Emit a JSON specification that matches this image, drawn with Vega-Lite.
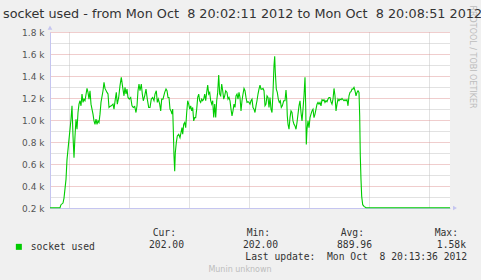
{
  "$schema": "https://vega.github.io/schema/vega-lite/v6.json",
  "autosize": "none",
  "width": 400,
  "height": 176,
  "padding": {"left": 50, "top": 32, "right": 31, "bottom": 72},
  "background": "#f0f0f0",
  "config": {"font": "DejaVu Sans", "view": {"fill": "#ffffff", "stroke": null}},
  "title": {
    "text": "socket used - from Mon Oct\u00a0 8 20:02:11 2012 to Mon Oct\u00a0 8 20:08:51 2012",
    "anchor": "start", "frame": "group", "dx": -47, "offset": -26, "baseline": "alphabetic",
    "font": "DejaVu Sans", "fontSize": 12.8, "fontWeight": "normal", "color": "#333333"
  },
  "layer": [
    {
      "layer": [
        {
          "data": {"values": [
            {"t":0,"v":202},{"t":10,"v":202},{"t":11,"v":230},{"t":13,"v":245},{"t":14,"v":290},{"t":16,"v":460},{"t":17,"v":640},{"t":19,"v":824},{"t":21,"v":1007},{"t":22,"v":1129},{"t":23,"v":855},{"t":24,"v":657},{"t":25,"v":855},{"t":26,"v":1007},{"t":27,"v":916},{"t":28,"v":1068},{"t":29,"v":1144},{"t":30,"v":1175},{"t":31,"v":1129},{"t":32,"v":1236},{"t":33,"v":1160},{"t":34,"v":1190},{"t":35,"v":1175},{"t":37,"v":1287},{"t":38,"v":1251},{"t":39,"v":1190},{"t":40,"v":1266},{"t":41,"v":1144},{"t":43,"v":1053},{"t":44,"v":992},{"t":45,"v":961},{"t":46,"v":1007},{"t":47,"v":961},{"t":48,"v":992},{"t":49,"v":977},{"t":50,"v":1053},{"t":51,"v":1160},{"t":53,"v":1266},{"t":54,"v":1342},{"t":55,"v":1287},{"t":57,"v":1251},{"t":58,"v":1236},{"t":59,"v":1114},
            {"t":60,"v":1123},{"t":61.3,"v":1129},{"t":63,"v":1144},{"t":64,"v":1099},{"t":65.3,"v":1190},{"t":66.3,"v":1251},{"t":67.3,"v":1144},{"t":68.7,"v":1205},{"t":70,"v":1312},{"t":71.3,"v":1388},{"t":72.7,"v":1297},{"t":74,"v":1220},{"t":75,"v":1297},{"t":76,"v":1236},{"t":77,"v":1281},{"t":78,"v":1205},{"t":79.3,"v":1190},{"t":80.7,"v":1205},{"t":82,"v":1129},{"t":83.3,"v":1114},{"t":84.7,"v":1123},{"t":86,"v":1068},{"t":87,"v":1129},{"t":88,"v":1266},{"t":89,"v":1327},{"t":90,"v":1266},{"t":91.3,"v":1327},{"t":92.3,"v":1236},{"t":93.3,"v":1175},{"t":94.7,"v":1220},{"t":96,"v":1281},{"t":97.3,"v":1190},{"t":98.7,"v":1114},{"t":100,"v":1114},{"t":101.3,"v":1190},{"t":102.7,"v":1205},{"t":104,"v":1175},{"t":105,"v":1236},{"t":106.3,"v":1266},{"t":107.3,"v":1160},{"t":108.3,"v":1190},{"t":109.7,"v":1144},{"t":110.7,"v":1083},{"t":111.7,"v":1190},{"t":113,"v":1190},{"t":114.7,"v":1251},{"t":116,"v":1281},
            {"t":117,"v":1266},{"t":118,"v":1205},{"t":119,"v":1205},{"t":120,"v":1099},{"t":121,"v":1083},{"t":122,"v":1053},{"t":122.7,"v":1099},{"t":123.3,"v":916},{"t":124,"v":672},{"t":124.7,"v":535},{"t":125.3,"v":702},{"t":126.3,"v":794},{"t":127.3,"v":855},{"t":128.7,"v":870},{"t":130,"v":839},{"t":131,"v":885},{"t":132,"v":931},{"t":132.7,"v":870},{"t":133.7,"v":961},{"t":134.7,"v":977},{"t":135.7,"v":931},{"t":136.7,"v":1068},{"t":137.7,"v":1175},{"t":138.7,"v":1144},{"t":139.7,"v":1099},{"t":140.7,"v":1129},{"t":141.7,"v":1083},{"t":142.7,"v":1114},{"t":143.7,"v":992},{"t":144.7,"v":1022},{"t":145.7,"v":1022},{"t":146.7,"v":1099},{"t":147.7,"v":1205},{"t":148.7,"v":1236},{"t":149.7,"v":1175},{"t":150.7,"v":1160},{"t":151.7,"v":1190},{"t":152.7,"v":1175},{"t":153.7,"v":1190},{"t":154.7,"v":1236},{"t":155.7,"v":1175},{"t":156.7,"v":1251},{"t":157.7,"v":1318},{"t":158.7,"v":1236},{"t":159.7,"v":1251},{"t":160.7,"v":1175},{"t":161.7,"v":1144},{"t":162.7,"v":1175},{"t":163.7,"v":1022},{"t":164.7,"v":1144},{"t":165.7,"v":1022},{"t":166.7,"v":1175},{"t":167.7,"v":1251},{"t":168.7,"v":1409},{"t":169.7,"v":1236},{"t":170.7,"v":1220},{"t":171.7,"v":1327},{"t":172.7,"v":1266},{"t":173.7,"v":1190},{"t":174.7,"v":1220},{"t":175.7,"v":1266},
            {"t":177,"v":1251},{"t":178,"v":1190},{"t":179,"v":1205},{"t":180,"v":1175},{"t":181,"v":1099},{"t":182,"v":1037},{"t":183,"v":1083},{"t":184,"v":1144},{"t":185,"v":1114},{"t":186,"v":1220},{"t":187,"v":1236},{"t":188,"v":1190},{"t":189,"v":1251},{"t":190,"v":1205},{"t":191,"v":1083},{"t":192,"v":1175},{"t":193,"v":1236},{"t":194,"v":1287},{"t":195,"v":1266},{"t":196,"v":1205},{"t":197,"v":1160},{"t":198,"v":1166},{"t":199,"v":1160},{"t":200,"v":1144},{"t":201,"v":1175},{"t":202,"v":1190},{"t":203,"v":1114},{"t":204,"v":1099},{"t":205,"v":1068},{"t":206,"v":1129},{"t":207,"v":1175},{"t":208,"v":1236},{"t":209,"v":1281},{"t":210,"v":1318},{"t":211,"v":1281},{"t":212,"v":1281},{"t":213,"v":1287},{"t":214,"v":1266},{"t":215,"v":1129},{"t":216,"v":1144},{"t":217,"v":1220},{"t":218,"v":1205},{"t":219,"v":1114},{"t":220,"v":1205},{"t":221,"v":1099},{"t":222,"v":1068},{"t":223,"v":1251},{"t":224,"v":1495},{"t":224.7,"v":1580},{"t":225.3,"v":1434},{"t":226.3,"v":1281},{"t":227.3,"v":1251},{"t":228.3,"v":1190},{"t":229.3,"v":1160},{"t":230.3,"v":1175},{"t":231.3,"v":1114},{"t":232.3,"v":1129},{"t":233.7,"v":1175},
            {"t":235,"v":1175},{"t":236,"v":1272},{"t":236.7,"v":1190},{"t":237.3,"v":1037},{"t":238,"v":961},{"t":239,"v":916},{"t":240,"v":1022},{"t":241,"v":1083},{"t":242,"v":1068},{"t":243,"v":992},{"t":244,"v":961},{"t":245,"v":946},{"t":246,"v":916},{"t":247,"v":977},{"t":248,"v":1053},{"t":249,"v":1129},{"t":250,"v":1175},{"t":251,"v":1068},{"t":252,"v":992},{"t":253,"v":1099},{"t":254,"v":1220},{"t":255,"v":1388},{"t":255.7,"v":1129},{"t":256.3,"v":778},{"t":257,"v":916},{"t":258,"v":992},{"t":259,"v":931},{"t":260,"v":1022},{"t":261,"v":1053},{"t":262,"v":1083},{"t":263,"v":1099},{"t":264,"v":1022},{"t":265,"v":1053},{"t":266,"v":1099},{"t":267,"v":1144},{"t":268,"v":1160},{"t":269,"v":1144},{"t":270,"v":1160},{"t":271,"v":1129},{"t":272,"v":1184},{"t":273,"v":1175},{"t":274,"v":1184},{"t":275,"v":1160},{"t":276,"v":1175},{"t":277,"v":1166},{"t":278,"v":1190},{"t":279,"v":1205},{"t":280,"v":1205},{"t":281,"v":1166},{"t":282,"v":1144},{"t":283,"v":1190},{"t":284,"v":1287},{"t":285,"v":1220},{"t":286,"v":1083},{"t":287,"v":1144},{"t":288,"v":1190},{"t":289,"v":1175},{"t":290,"v":1190},{"t":291,"v":1184},
            {"t":292,"v":1196},{"t":293,"v":1184},{"t":294,"v":1175},{"t":295,"v":1184},{"t":296,"v":1175},{"t":297,"v":1184},{"t":298,"v":1129},{"t":299,"v":1220},{"t":300,"v":1251},{"t":301,"v":1257},{"t":302,"v":1281},{"t":303,"v":1281},{"t":304,"v":1297},{"t":305,"v":1266},{"t":306,"v":1220},{"t":307,"v":1251},{"t":308,"v":1266},{"t":309,"v":1251},{"t":309.7,"v":1037},{"t":310.3,"v":672},{"t":311,"v":458},{"t":311.7,"v":306},{"t":312.7,"v":230},{"t":314,"v":215},{"t":316,"v":202},{"t":400,"v":202}
          ]},
          "mark": {"type": "line", "strokeWidth": 1.1, "interpolate": "linear"},
          "encoding": {
            "x": {
              "field": "t", "type": "quantitative",
              "scale": {"domain": [0, 400], "nice": false, "zero": false},
              "axis": {
                "title": null,
                "values": [19, 49, 79, 109, 139, 169, 199, 229, 259, 289, 319, 349, 379],
                "grid": true, "gridDash": [1, 1], "gridWidth": 1,
                "gridColor": {"condition": {"test": "datum.value === 169", "value": "#e09a9a"}, "value": "#c4c4c4"},
                "ticks": false, "domainColor": "#c5c5f0", "domainWidth": 1,
                "labelExpr": "datum.value === 169 ? '20:05' : ''",
                "labelFont": "DejaVu Sans", "labelFontSize": 9, "labelColor": "#555555",
                "labelPadding": 3, "labelFlush": false, "labelOverlap": false
              }
            },
            "y": {
              "field": "v", "type": "quantitative",
              "scale": {"domain": [200, 1800], "nice": false, "zero": false},
              "axis": {
                "title": null, "orient": "left",
                "values": [200, 300, 400, 500, 600, 700, 800, 900, 1000, 1100, 1200, 1300, 1400, 1500, 1600, 1700, 1800],
                "grid": true, "gridDash": [1, 1], "gridWidth": 1,
                "gridColor": {"condition": {"test": "datum.value % 200 === 0", "value": "#e09a9a"}, "value": "#c4c4c4"},
                "ticks": false, "domainColor": "#c5c5f0", "domainWidth": 1,
                "labelExpr": "datum.value % 200 === 0 ? format(datum.value / 1000, '.1f') + ' k' : ''",
                "labelFont": "DejaVu Sans", "labelFontSize": 9, "labelColor": "#555555",
                "labelPadding": 6, "labelFlush": false, "labelOverlap": false
              }
            },
            "color": {
              "datum": "socket used", "type": "nominal",
              "scale": {"domain": ["socket used"], "range": ["#00cc00"]},
              "legend": {
                "orient": "none", "legendX": -36, "legendY": 210, "title": null, "padding": 0,
                "symbolType": "square", "symbolSize": 36, "symbolStrokeWidth": 0,
                "symbolFillColor": "#00cc00", "labelOffset": 7,
                "labelFont": "DejaVu Sans Mono", "labelFontSize": 9.7, "labelColor": "#333333",
                "encode": {"symbols": {"update": {"fill": {"value": "#00cc00"}, "stroke": {"value": "transparent"}, "opacity": {"value": 1}}}}
              }
            }
          }
        },
        {
          "data": {"values": [{}]},
          "mark": {"type": "point", "shape": "triangle-up", "filled": true, "color": "#c5c5f0", "size": 22, "opacity": 1},
          "encoding": {
            "x": {"datum": 0, "type": "quantitative"},
            "y": {"datum": 1840, "type": "quantitative", "axis": null}
          }
        },
        {
          "data": {"values": [{}]},
          "mark": {"type": "point", "shape": "triangle-right", "filled": true, "color": "#c5c5f0", "size": 22, "opacity": 1},
          "encoding": {
            "x": {"datum": 405, "type": "quantitative"},
            "y": {
              "datum": 200, "type": "quantitative",
              "axis": {
                "orient": "right", "title": "RRDTOOL / TOBI OETIKER",
                "labels": false, "ticks": false, "domain": false, "grid": false,
                "titleFont": "DejaVu Sans", "titleFontSize": 8, "titleFontWeight": "normal", "titleColor": "#bdbdbd",
                "titleAngle": 90, "titleAlign": "left", "titleBaseline": "middle",
                "titleX": 21, "titleY": -27
              }
            }
          }
        }
      ],
      "resolve": {"axis": {"y": "independent"}}
    },
    {
      "data": {"values": [
        {"part": "header", "row": "head", "col": "Cur", "text": "Cur:"},
        {"part": "header", "row": "head", "col": "Min", "text": "Min:"},
        {"part": "header", "row": "head", "col": "Avg", "text": "Avg:"},
        {"part": "header", "row": "head", "col": "Max", "text": "Max:"},
        {"part": "value", "row": "val", "col": "Cur", "text": "202.00"},
        {"part": "value", "row": "val", "col": "Min", "text": "202.00"},
        {"part": "value", "row": "val", "col": "Avg", "text": "889.96"},
        {"part": "value", "row": "val", "col": "Max", "text": "1.58k"},
        {"part": "update", "row": "upd", "col": "Max", "text": "Last update:\u00a0 Mon Oct\u00a0 8 20:13:36 2012"},
        {"part": "note", "row": "note", "col": "Min", "text": "Munin unknown"}
      ]},
      "encoding": {
        "x": {"field": "col", "type": "nominal", "axis": null,
              "scale": {"type": "point", "domain": ["Cur", "Min", "Avg", "Max"], "range": [134, 416], "padding": 0}},
        "y": {"field": "row", "type": "nominal", "axis": null,
              "scale": {"type": "point", "domain": ["head", "val", "upd", "note"], "range": [204, 240], "padding": 0}},
        "text": {"field": "text"}
      },
      "layer": [
        {"transform": [{"filter": "datum.part === 'header'"}],
         "mark": {"type": "text", "align": "right", "baseline": "alphabetic", "dx": -8, "font": "DejaVu Sans Mono", "fontSize": 9.7, "color": "#333333"}},
        {"transform": [{"filter": "datum.part === 'value'"}],
         "mark": {"type": "text", "align": "right", "baseline": "alphabetic", "dx": 0, "font": "DejaVu Sans Mono", "fontSize": 9.7, "color": "#333333"}},
        {"transform": [{"filter": "datum.part === 'update'"}],
         "mark": {"type": "text", "align": "right", "baseline": "alphabetic", "dx": 1, "font": "DejaVu Sans Mono", "fontSize": 9.7, "color": "#333333"}},
        {"transform": [{"filter": "datum.part === 'note'"}],
         "mark": {"type": "text", "align": "center", "baseline": "alphabetic", "dx": -38, "font": "DejaVu Sans", "fontSize": 8, "color": "#bdbdbd"}}
      ]
    }
  ],
  "resolve": {"scale": {"x": "independent", "y": "independent"}, "axis": {"x": "independent", "y": "independent"}}
}
